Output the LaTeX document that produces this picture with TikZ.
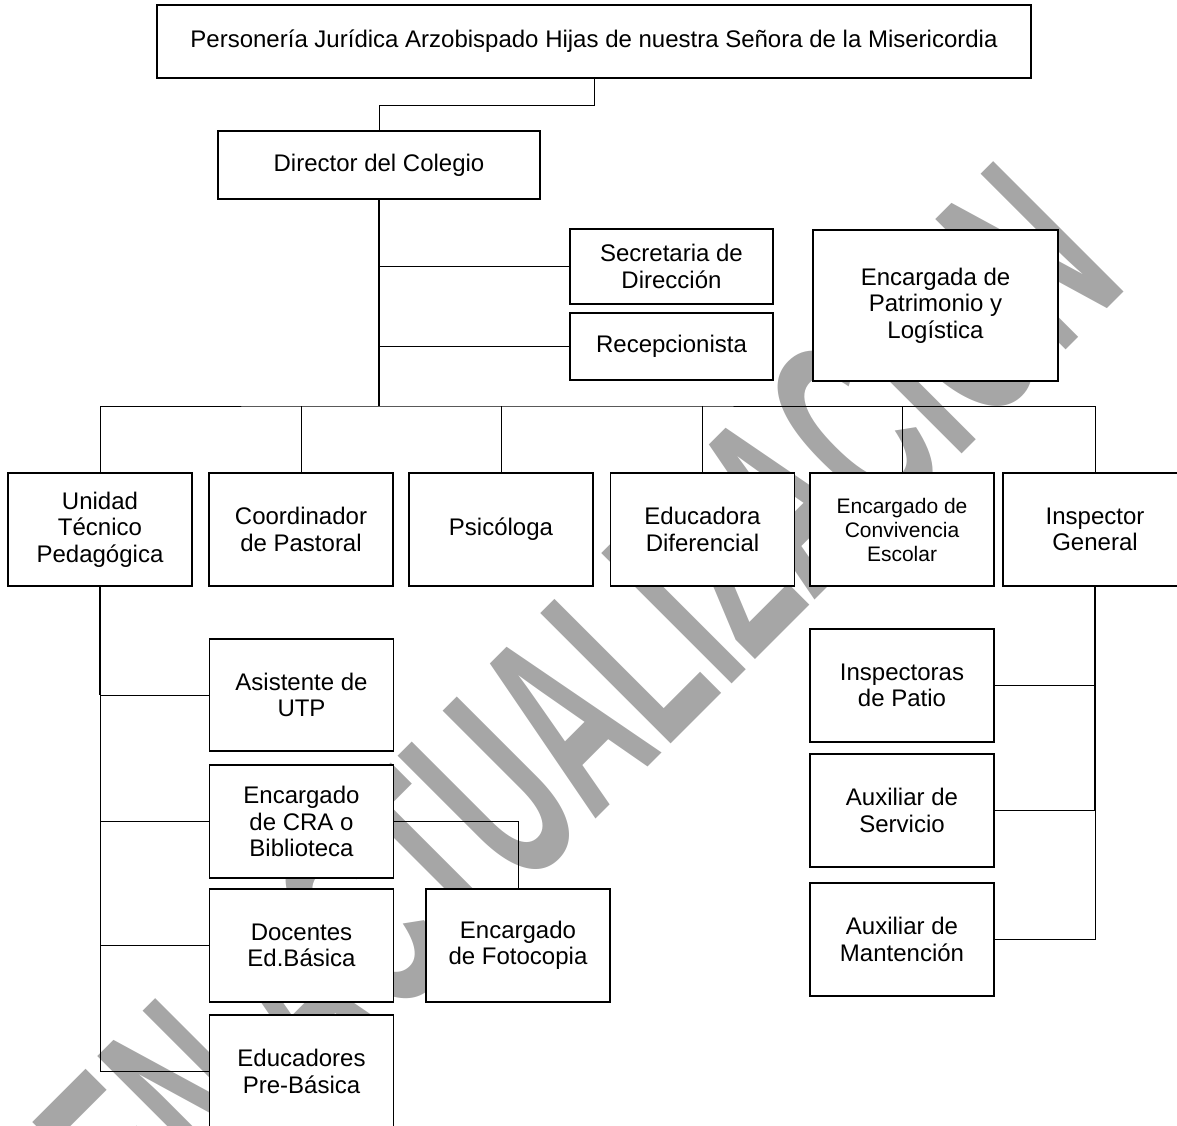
\documentclass[tikz,border=0pt]{standalone}
\usepackage{graphicx}
\usepackage{fontspec}
\setmainfont{Liberation Sans}
\usepackage{tikz}
\definecolor{marca}{RGB}{166,166,166}

\begin{document}
\begin{tikzpicture}[x=1pt,y=-1pt,
  caja/.style={draw, line width=1.1pt, fill=white, align=center, inner sep=0pt,
    minimum width=184pt, minimum height=113pt, font=\fontsize{24}{26.5}\selectfont},
  linea/.style={line width=1pt},
  tronco/.style={line width=1.8pt}]
\useasboundingbox (0,0) rectangle (1177,1125);
\clip (0,0) rectangle (1177,1125);
\node[rotate=45, text=marca, font=\fontsize{268}{268}\selectfont\bfseries] (agua) at (578,707) {\scalebox{0.52}[1]{EN ACTUALIZACION}};

\node[caja, minimum width=874pt, minimum height=73pt] (pj) at (594,41.5) {Personería Jurídica Arzobispado Hijas de nuestra Señora de la Misericordia};
\node[caja, minimum width=322pt, minimum height=68pt] (dir) at (379,165) {Director del Colegio};
\node[caja, minimum width=203pt, minimum height=75pt] (sec) at (671.5,266.5) {Secretaria de\\Dirección};
\node[caja, minimum width=203pt, minimum height=67pt] (rec) at (671.5,346.5) {Recepcionista};
\node[caja, minimum width=245pt, minimum height=151pt] (patr) at (935.5,305.5) {Encargada de\\Patrimonio y\\Logística};

\node[caja] (utp) at (100,529.5) {Unidad\\Técnico\\Pedagógica};
\node[caja] (cp) at (301,529.5) {Coordinador\\de Pastoral};
\node[caja] (psi) at (501,529.5) {Psicóloga};
\node[caja] (edif) at (702.5,529.5) {Educadora\\Diferencial};
\node[caja, font=\fontsize{21}{24}\selectfont] (conv) at (902,529.5) {Encargado de\\Convivencia\\Escolar};
\node[caja] (insp) at (1095,529.5) {Inspector\\General};

\node[caja, minimum height=112pt] (asis) at (301.5,695) {Asistente de\\UTP};
\node[caja] (cra) at (301.5,821.5) {Encargado\\de CRA o\\Biblioteca};
\node[caja] (doc) at (301.5,945.5) {Docentes\\Ed.Básica};
\node[caja] (edup) at (301.5,1071.5) {Educadores\\Pre-Básica};
\node[caja] (foto) at (518,945.5) {Encargado\\de Fotocopia};

\node[caja] (pat) at (902,685.5) {Inspectoras\\de Patio};
\node[caja] (serv) at (902,810.5) {Auxiliar de\\Servicio};
\node[caja] (mant) at (902,939.5) {Auxiliar de\\Mantención};

\coordinate (bus) at (379,406);
\draw[linea] (pj.south) -- ++(0,27) -| (dir.north);
\draw[tronco] (dir.south) -- (bus);
\draw[linea] (dir.south |- sec.west) -- (sec.west);
\draw[linea] (dir.south |- rec.west) -- (rec.west);
\draw[linea] (utp.north) |- (bus) -| (insp.north);
\foreach \n in {cp,psi,edif,conv}
  \draw[linea] (\n.north) -- (\n.north |- bus);

\draw[tronco] (utp.south) -- (utp.south |- asis.west);
\draw[linea] (utp.south |- asis.west) |- (edup.west);
\foreach \n in {asis,cra,doc}
  \draw[linea] (utp.south |- \n.west) -- (\n.west);
\draw[linea] (cra.east) -| (foto.north);

\draw[tronco] (insp.south) -- (insp.south |- serv.east);
\draw[linea] (insp.south |- serv.east) |- (mant.east);
\foreach \n in {pat,serv}
  \draw[linea] (insp.south |- \n.east) -- (\n.east);
\end{tikzpicture}
\end{document}
